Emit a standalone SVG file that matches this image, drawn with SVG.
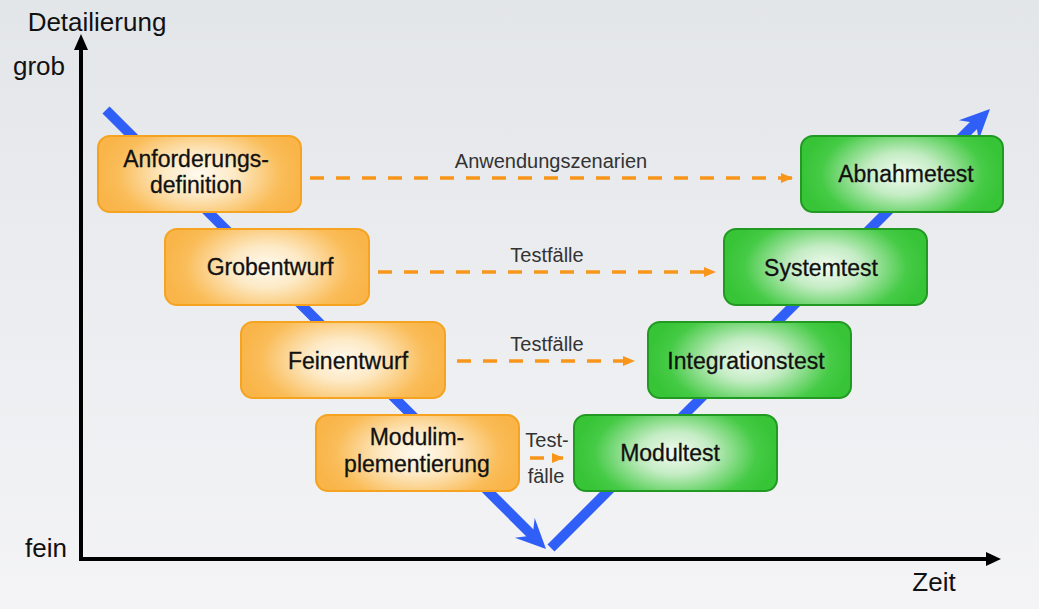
<svg xmlns="http://www.w3.org/2000/svg" width="1039" height="609" viewBox="0 0 1039 609">
<defs>
<linearGradient id="bg" x1="0" y1="0" x2="0" y2="1">
<stop offset="0" stop-color="#e3e6e9"/>
<stop offset="1" stop-color="#f4f4f6"/>
</linearGradient>
<radialGradient id="og" cx="0.5" cy="0.5" r="0.5" gradientTransform="translate(0.5 0.5) scale(1 1.6) translate(-0.5 -0.5)">
<stop offset="0" stop-color="#fffaf0"/>
<stop offset="0.35" stop-color="#fde9c4"/>
<stop offset="0.8" stop-color="#fabd5a"/>
<stop offset="1" stop-color="#f9b549"/>
</radialGradient>
<radialGradient id="gg" cx="0.5" cy="0.5" r="0.5" gradientTransform="translate(0.5 0.5) scale(1 1.6) translate(-0.5 -0.5)">
<stop offset="0" stop-color="#f2fbf2"/>
<stop offset="0.35" stop-color="#c4ecc4"/>
<stop offset="0.8" stop-color="#46cb46"/>
<stop offset="1" stop-color="#37c437"/>
</radialGradient>
<marker id="oa" viewBox="0 0 12 10" refX="11" refY="5" markerWidth="12" markerHeight="10" markerUnits="userSpaceOnUse" orient="auto">
<path d="M0,0 L12,5 L0,10 Z" fill="#f7961a"/>
</marker>
</defs>
<style>
.t{font-family:"Liberation Sans",Arial,Helvetica,sans-serif;fill:#111111;text-anchor:middle}
.bt{font-size:23px;stroke:#111111;stroke-width:0.3}
.lb{font-size:20px;fill:#333333}
.ax{font-size:26px;fill:#111111}
.ob{fill:url(#og);stroke:#f5a320;stroke-width:2}
.gb{fill:url(#gg);stroke:#229922;stroke-width:2}
.ds{stroke:#f7961a;stroke-width:3.5;stroke-dasharray:14 12;fill:none}
.bl{stroke:#2f5ff6;stroke-width:10;fill:none}
</style>
<rect width="1039" height="609" fill="url(#bg)"/>

<g id="axes">
<line x1="81" y1="559" x2="81" y2="46" stroke="#000" stroke-width="4"/>
<polygon points="81,34 74,50 88,50" fill="#000"/>
<line x1="79" y1="559" x2="988" y2="559" stroke="#000" stroke-width="4"/>
<polygon points="1001,559 986,552 986,566" fill="#000"/>
<text class="t ax" x="97" y="31">Detailierung</text>
<text class="t ax" x="39" y="75">grob</text>
<text class="t ax" x="46" y="557">fein</text>
<text class="t ax" x="934" y="591">Zeit</text>
</g>

<g id="v-shape">
<line class="bl" x1="106" y1="110" x2="535" y2="538"/>
<polygon points="546,549 514.9,537.7 532.6,535.6 534.7,517.9" fill="#2f5ff6"/>
<line class="bl" x1="551" y1="548" x2="978" y2="121"/>
<polygon points="990,109 958.9,120.3 975.9,123.1 978.7,140.1" fill="#2f5ff6"/>
</g>

<g id="connectors">
<line class="ds" x1="310" y1="178" x2="792" y2="178" marker-end="url(#oa)"/>
<text class="t lb" x="551" y="168">Anwendungszenarien</text>
<line class="ds" x1="378" y1="272" x2="715" y2="272" marker-end="url(#oa)"/>
<text class="t lb" x="547" y="262">Testfälle</text>
<line class="ds" x1="457" y1="361" x2="634" y2="361" marker-end="url(#oa)"/>
<text class="t lb" x="547" y="351">Testfälle</text>
<line class="ds" x1="530" y1="458" x2="563" y2="458" marker-end="url(#oa)"/>
<text class="t lb" x="547" y="447">Test-</text>
<text class="t lb" x="546" y="483">fälle</text>
</g>

<g id="anforderungsdefinition">
<rect class="ob" x="98" y="136" width="203" height="76" rx="12"/>
<text class="t bt" x="196" y="167">Anforderungs-</text>
<text class="t bt" x="196" y="193">definition</text>
</g>
<g id="grobentwurf">
<rect class="ob" x="165" y="229" width="204" height="76" rx="12"/>
<text class="t bt" x="270" y="275">Grobentwurf</text>
</g>
<g id="feinentwurf">
<rect class="ob" x="241" y="322" width="204" height="76" rx="12"/>
<text class="t bt" x="348" y="369">Feinentwurf</text>
</g>
<g id="modulimplementierung">
<rect class="ob" x="316" y="415" width="203" height="76" rx="12"/>
<text class="t bt" x="417" y="445">Modulim-</text>
<text class="t bt" x="417" y="472">plementierung</text>
</g>

<g id="abnahmetest">
<rect class="gb" x="801" y="136" width="202" height="76" rx="12"/>
<text class="t bt" x="906" y="182">Abnahmetest</text>
</g>
<g id="systemtest">
<rect class="gb" x="724" y="229" width="203" height="76" rx="12"/>
<text class="t bt" x="821" y="276">Systemtest</text>
</g>
<g id="integrationstest">
<rect class="gb" x="648" y="322" width="203" height="76" rx="12"/>
<text class="t bt" x="746" y="369">Integrationstest</text>
</g>
<g id="modultest">
<rect class="gb" x="574" y="415" width="203" height="76" rx="12"/>
<text class="t bt" x="670" y="461">Modultest</text>
</g>
</svg>
